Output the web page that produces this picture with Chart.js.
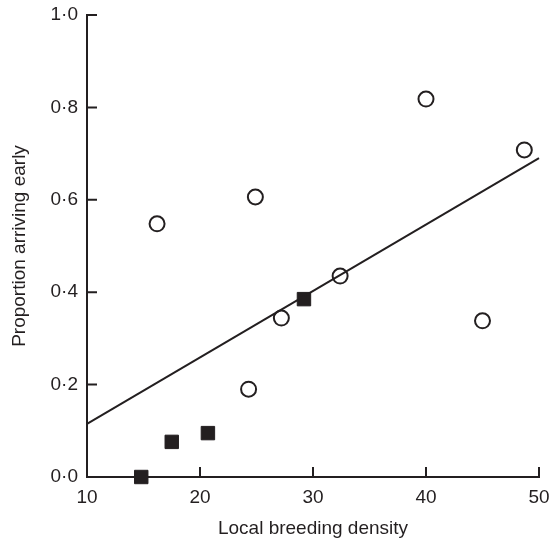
<!DOCTYPE html>
<html>
<head>
<meta charset="utf-8">
<script src="https://cdn.jsdelivr.net/npm/chart.js@4/dist/chart.umd.min.js"></script>
<style>
  html, body { margin: 0; padding: 0; background: #fff; }
  #wrap { width: 550px; height: 540px; }
</style>
</head>
<body>
<div id="wrap"><canvas id="chart" width="550" height="540"></canvas></div>
<script>
// open circles
const openX = [16.2, 24.9, 40.0, 48.7, 32.4, 27.2, 45.0, 24.3];
const openY = [0.548, 0.606, 0.818, 0.708, 0.435, 0.344, 0.338, 0.19];
// filled squares
const filledX = [14.8, 17.5, 20.7, 29.2];
const filledY = [0.0, 0.076, 0.095, 0.385];
// fitted line ends
const fitX = [10, 50];
const fitY = [0.115, 0.690];

const xTicks = [10, 20, 30, 40, 50];
const yTicks = [0, 0.2, 0.4, 0.6, 0.8, 1.0];

const ink = '#231f20';
const fontFamily = '"Liberation Sans", Arial, Helvetica, sans-serif';
const fontSize = 19;

function toPoints(xs, ys) {
  return xs.map((x, i) => ({ x: x, y: ys[i] }));
}

// ticks point inward, Chart.js only draws them outward
const inwardTicks = {
  id: 'inwardTicks',
  afterDatasetsDraw(chart) {
    const { ctx, chartArea, scales } = chart;
    const len = 10;
    ctx.save();
    ctx.strokeStyle = ink;
    ctx.lineWidth = 2;
    ctx.beginPath();
    xTicks.forEach(v => {
      const px = scales.x.getPixelForValue(v);
      ctx.moveTo(px, chartArea.bottom);
      ctx.lineTo(px, chartArea.bottom - len);
    });
    yTicks.forEach(v => {
      const py = scales.y.getPixelForValue(v);
      ctx.moveTo(chartArea.left, py);
      ctx.lineTo(chartArea.left + len, py);
    });
    ctx.stroke();
    ctx.restore();
  }
};

new Chart(document.getElementById('chart'), {
  type: 'scatter',
  data: {
    datasets: [
      {
        type: 'line',
        data: toPoints(fitX, fitY),
        borderColor: ink,
        borderWidth: 2,
        pointRadius: 0,
        fill: false
      },
      {
        data: toPoints(openX, openY),
        pointStyle: 'circle',
        pointRadius: 7.5,
        pointBorderWidth: 2,
        pointBorderColor: ink,
        pointBackgroundColor: '#fff'
      },
      {
        data: toPoints(filledX, filledY),
        pointStyle: 'rect',
        pointRadius: 9.5,
        pointBorderWidth: 1,
        pointBorderColor: ink,
        pointBackgroundColor: ink
      }
    ]
  },
  options: {
    responsive: false,
    animation: false,
    clip: false,
    layout: { padding: { top: 15, right: 11, left: 0, bottom: 0 } },
    plugins: { legend: { display: false }, tooltip: { enabled: false } },
    scales: {
      x: {
        type: 'linear',
        min: 10,
        max: 50,
        afterBuildTicks: (scale) => { scale.ticks = xTicks.map(v => ({ value: v })); },
        afterFit: (scale) => {
          scale.height = 63;
          scale.paddingLeft = 0;
          scale.paddingRight = 0;
        },
        grid: { display: false, drawTicks: false },
        border: { display: true, color: ink, width: 2 },
        ticks: { color: ink, padding: 9, font: { family: fontFamily, size: fontSize } },
        title: { display: true, text: 'Local breeding density', color: ink, padding: { top: 13, bottom: 0 }, font: { family: fontFamily, size: fontSize } }
      },
      y: {
        type: 'linear',
        min: 0,
        max: 1,
        afterBuildTicks: (scale) => { scale.ticks = yTicks.map(v => ({ value: v })); },
        afterFit: (scale) => {
          scale.width = 87;
          scale.paddingTop = 0;
          scale.paddingBottom = 0;
        },
        grid: { display: false, drawTicks: false },
        border: { display: true, color: ink, width: 2 },
        ticks: {
          color: ink,
          padding: 9,
          font: { family: fontFamily, size: fontSize },
          callback: (v) => Number(v).toFixed(1).replace('.', '\u00b7')
        },
        title: { display: true, text: 'Proportion arriving early', color: ink, padding: { top: 8, bottom: 10 }, font: { family: fontFamily, size: fontSize } }
      }
    }
  },
  plugins: [inwardTicks]
});
</script>
</body>
</html>
